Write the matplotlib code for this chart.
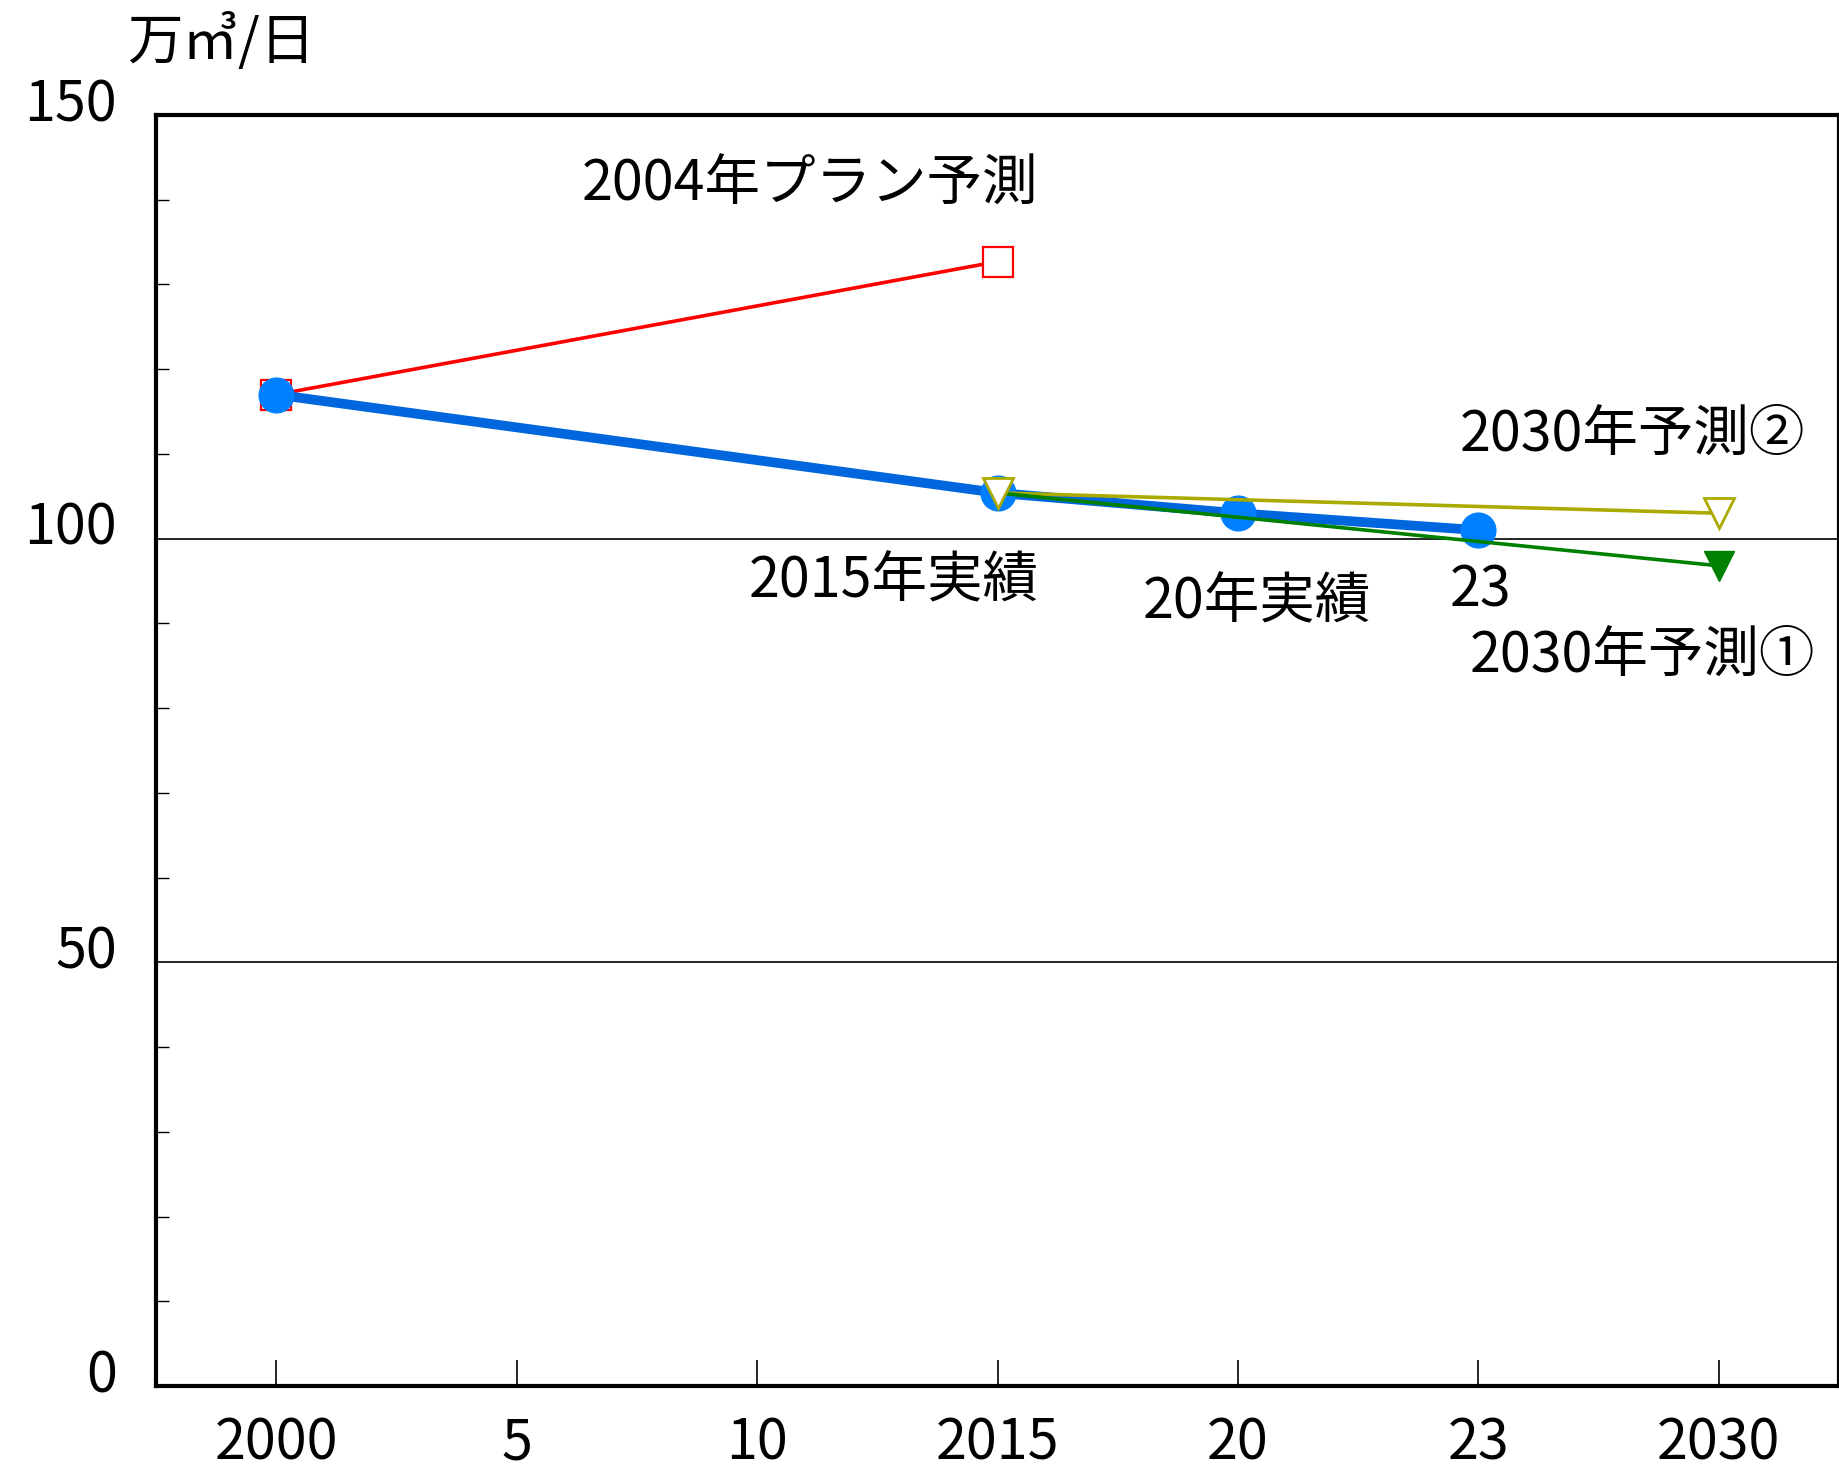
import matplotlib
matplotlib.use("Agg")
import matplotlib.pyplot as plt
import matplotlib.transforms as mtransforms

plt.rcParams['font.family'] = ['Noto Sans CJK JP', 'DejaVu Sans']

# Data
categories = ["2000", "5", "10", "2015", "20", "23", "2030"]
actual_idx = [0, 3, 4, 5]
actual_vals = [117.0, 105.4, 103.0, 101.0]
plan2004_idx = [0, 3]
plan2004_vals = [117.0, 132.7]
fc1_idx = [3, 6]
fc1_vals = [105.4, 96.8]
fc2_idx = [3, 6]
fc2_vals = [105.4, 103.0]
yticks = [0, 50, 100, 150]
ylabels = ["0", "50", "100", "150"]

fig = plt.figure(figsize=(18.4, 14.74), dpi=100)
ax = fig.add_axes([156/1840, 88/1474, 1 - 156/1840 - 0.0005, (1386-115)/1474])

FS = 40

# lines
ax.plot(plan2004_idx, plan2004_vals, color='#ff0000', lw=2.6, zorder=2)
ax.plot(plan2004_idx, plan2004_vals, ls='none', marker='s', ms=21, mfc='white',
        mec='#ff0000', mew=1.6, zorder=2)
ax.plot(actual_idx, actual_vals, color='#0066dd', lw=7, zorder=3)
ax.plot(actual_idx, actual_vals, ls='none', marker='o', ms=25, mfc='#0080ff',
        mec='#0080ff', zorder=3)
ax.plot(fc2_idx, fc2_vals, color='#aaaa00', lw=2.6, zorder=4)
ax.plot(fc1_idx, fc1_vals, color='#008000', lw=2.6, zorder=4)
ax.plot(fc1_idx[1:], fc1_vals[1:], ls='none', marker='v', ms=22, mfc='#008000',
        mec='#008000', zorder=5)
ax.plot(fc2_idx, fc2_vals, ls='none', marker='v', ms=22, mfc='white',
        mec='#aaaa00', mew=2, zorder=5)

# grid lines
for g in [50, 100]:
    ax.axhline(g, color='black', lw=1.2, zorder=1)

ax.set_xlim(-0.5, 6.5)
ax.set_ylim(0, 150)

ax.set_xticks(range(len(categories)))
ax.set_xticklabels(categories, fontsize=FS)
ax.tick_params(axis='x', direction='in', length=19, width=1.2, pad=21)

ax.set_yticks(yticks)
ax.set_yticklabels(ylabels, fontsize=FS)
ax.set_yticks(range(10, 150, 10), minor=True)
ax.tick_params(axis='y', which='major', direction='in', length=0, pad=28)
ax.tick_params(axis='y', which='minor', direction='in', length=9, width=1.0)

off = mtransforms.ScaledTranslation(0, 16/100, fig.dpi_scale_trans)
for lab in ax.get_yticklabels():
    lab.set_transform(lab.get_transform() + off)

for sp in ['left', 'top', 'bottom', 'right']:
    ax.spines[sp].set_linewidth(3)

# annotations
ax.text(2.22, 141.7, "2004年プラン予測", fontsize=FS, ha='center', va='center')
ax.text(6.36, 112.2, "2030年予測②", fontsize=FS, ha='right', va='center')
ax.text(3.17, 94.9, "2015年実績", fontsize=FS, ha='right', va='center')
ax.text(4.08, 92.4, "20年実績", fontsize=FS, ha='center', va='center')
ax.text(5.01, 93.8, "23", fontsize=FS, ha='center', va='center')
ax.text(6.40, 86.1, "2030年予測①", fontsize=FS, ha='right', va='center')

fig.text(221/1840, 1 - 43/1474, "万㎥/日", fontsize=FS, ha='center', va='center')

fig.savefig("out.png", dpi=100)
